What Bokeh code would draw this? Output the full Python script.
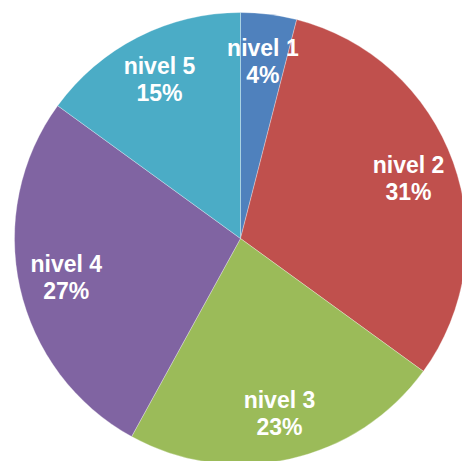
import math
from bokeh.plotting import figure
from bokeh.models import Range1d, ColumnDataSource
from bokeh.core.properties import value
from bokeh.embed import file_html
from bokeh.resources import INLINE

categories = ["nivel 1", "nivel 2", "nivel 3", "nivel 4", "nivel 5"]
values = [4, 31, 23, 27, 15]
colors = ["#4F81BD", "#C0504D", "#9BBB59", "#8064A2", "#4BACC6"]

W, H = 462, 461
cx, cy = 240, H - 238
R = 226
label_r = 0.79 * R

total = float(sum(values))
starts, ends, lx, ly1, ly2, pct = [], [], [], [], [], []
cum = 0.0
for v in values:
    a0 = math.pi / 2 - 2 * math.pi * cum / total
    cum += v
    a1 = math.pi / 2 - 2 * math.pi * cum / total
    starts.append(a0)
    ends.append(a1)
    mid = (a0 + a1) / 2
    x = cx + label_r * math.cos(mid)
    y = cy + label_r * math.sin(mid)
    lx.append(x)
    ly1.append(y + 13)
    ly2.append(y - 14)
    pct.append(f"{round(100 * v / total)}%")

src = ColumnDataSource(dict(start=starts, end=ends, color=colors,
                            lx=lx, ly1=ly1, ly2=ly2, cat=categories, pct=pct))

p = figure(width=W, height=H, output_backend="svg", toolbar_location=None,
           x_range=Range1d(0, W), y_range=Range1d(0, H), min_border=0)
p.axis.visible = False
p.grid.visible = False
p.outline_line_color = None
p.background_fill_color = "white"
p.border_fill_color = "white"

p.wedge(x=cx, y=cy, radius=R, start_angle="start", end_angle="end",
        direction="clock", fill_color="color", line_color="white",
        line_width=0.6, line_alpha=0.5, source=src)

for col, txt in (("ly1", "cat"), ("ly2", "pct")):
    p.text(x="lx", y=col, text=txt, source=src, text_color="white",
           text_font=value("Liberation Sans"), text_font_style="bold",
           text_font_size="23px", text_align="center", text_baseline="middle")

open("out.html", "w").write(file_html(p, INLINE))
